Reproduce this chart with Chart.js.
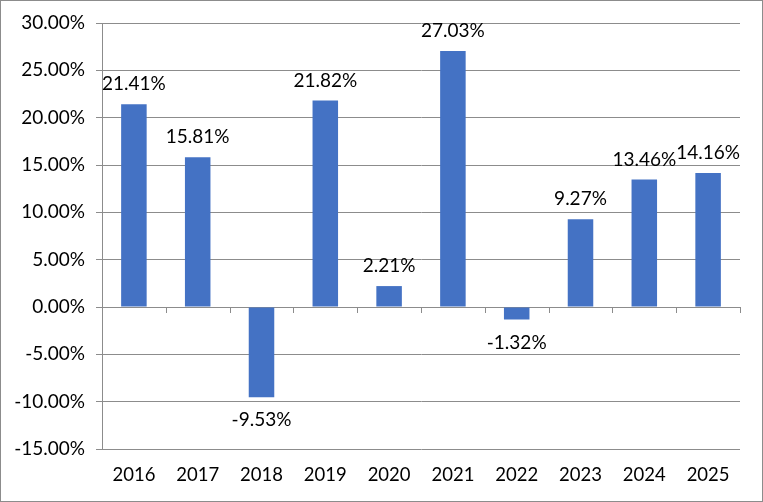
<!DOCTYPE html>
<html>
<head>
<meta charset="utf-8">
<script src="https://cdn.jsdelivr.net/npm/chart.js@4"></script>
<style>
  html, body { margin: 0; padding: 0; background: #fff; }
  #wrap { width: 763px; height: 502px; position: relative; }
</style>
</head>
<body>
<div id="wrap"><canvas id="returnsChart" width="763" height="502"></canvas></div>
<script>
// Chart data
const years = ['2016', '2017', '2018', '2019', '2020', '2021', '2022', '2023', '2024', '2025'];
const returns = [21.41, 15.81, -9.53, 21.82, 2.21, 27.03, -1.32, 9.27, 13.46, 14.16];
const yTicks = [30, 25, 20, 15, 10, 5, 0, -5, -10, -15];

const barColor = '#4472C4';
const gridColor = '#8c8c8c';
const fontFamily = 'Lato, Calibri, "Liberation Sans", sans-serif';

const ctx = document.getElementById('returnsChart').getContext('2d');

new Chart(ctx, {
  type: 'bar',
  data: {
    labels: years,
    datasets: [{
      data: returns,
      backgroundColor: barColor,
      borderWidth: 0,
      barPercentage: 0.4,
      categoryPercentage: 1
    }]
  },
  options: {
    responsive: false,
    animation: false,
    layout: { padding: { top: 23, right: 23, left: 0, bottom: 0 } },
    plugins: {
      legend: { display: false },
      tooltip: { enabled: false }
    },
    scales: {
      x: {
        grid: { display: false },
        border: { display: false },
        ticks: {
          color: '#000',
          font: { family: fontFamily, size: 18.5 },
          padding: 7
        },
        afterFit: (scale) => { scale.height = 53; }
      },
      y: {
        min: -15,
        max: 30,
        afterBuildTicks: (scale) => {
          scale.ticks = yTicks.map(v => ({ value: v }));
        },
        grid: {
          color: gridColor,
          lineWidth: 1,
          tickLength: 6
        },
        border: { display: true, color: gridColor, width: 1 },
        ticks: {
          color: '#000',
          font: { family: fontFamily, size: 19 },
          padding: 11,
          callback: (v) => v.toFixed(2) + '%'
        },
        afterFit: (scale) => { scale.width = 102; }
      }
    }
  },
  plugins: [{
    id: 'excelBits',
    afterDatasetsDraw: (chart) => {
      const c = chart.ctx;
      const xs = chart.scales.x;
      const ys = chart.scales.y;
      const zeroY = ys.getPixelForValue(0);
      const step = (xs.right - xs.left) / years.length;
      c.save();
      // tick marks on the category axis at the zero line
      c.strokeStyle = gridColor;
      c.lineWidth = 1;
      c.beginPath();
      for (let i = 1; i <= years.length; i++) {
        const x = Math.round(xs.left + i * step) + 0.5;
        c.moveTo(x, zeroY);
        c.lineTo(x, zeroY + 6);
      }
      c.stroke();
      // value labels
      const meta = chart.getDatasetMeta(0);
      c.fillStyle = '#000';
      c.font = '19px ' + fontFamily;
      c.textAlign = 'center';
      c.textBaseline = 'middle';
      meta.data.forEach((bar, i) => {
        const v = returns[i];
        const y = v >= 0 ? bar.y - 20 : bar.y + 23;
        c.fillText(v.toFixed(2) + '%', bar.x, y);
      });
      // outer border
      c.strokeRect(0.5, 0.5, chart.width - 1, chart.height - 1);
      c.restore();
    }
  }]
});
</script>
</body>
</html>
